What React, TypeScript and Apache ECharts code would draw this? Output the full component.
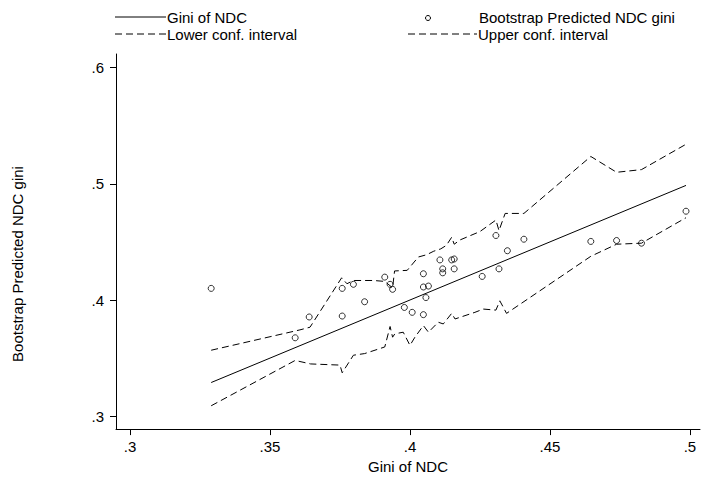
import React, { useEffect, useRef } from "react";
import * as echarts from "echarts";

const giniNDC = [0.329, 0.359, 0.364, 0.3758, 0.3758, 0.3798, 0.3838, 0.391, 0.3929, 0.3938, 0.398, 0.4008, 0.4048, 0.4048, 0.4066, 0.4057, 0.4048, 0.4107, 0.4117, 0.4117, 0.4149, 0.4158, 0.4158, 0.4258, 0.4307, 0.4318, 0.4348, 0.4407, 0.4646, 0.4738, 0.4827, 0.4986];
const bootstrapPred = [0.41, 0.3675, 0.3854, 0.41, 0.3862, 0.4135, 0.3985, 0.4197, 0.4135, 0.4092, 0.3936, 0.3894, 0.4226, 0.4112, 0.412, 0.4021, 0.3874, 0.4345, 0.4268, 0.4234, 0.4345, 0.4353, 0.4268, 0.4203, 0.4555, 0.4268, 0.4424, 0.4523, 0.4504, 0.4512, 0.4489, 0.4764];

const fitX = [0.329, 0.4986];
const fitY = [0.329, 0.4986];

const upperX = [0.329, 0.3607, 0.3643, 0.3756, 0.3775, 0.3798, 0.387, 0.391, 0.3938, 0.3945, 0.399, 0.403, 0.406, 0.4085, 0.411, 0.413, 0.4149, 0.4158, 0.4179, 0.425, 0.4307, 0.4318, 0.434, 0.4407, 0.4646, 0.4738, 0.4827, 0.4986];
const upperY = [0.3568, 0.3743, 0.3766, 0.4191, 0.414, 0.4168, 0.4168, 0.416, 0.4105, 0.425, 0.4255, 0.437, 0.439, 0.442, 0.444, 0.447, 0.454, 0.448, 0.4517, 0.4589, 0.4688, 0.4597, 0.4745, 0.4745, 0.5235, 0.5099, 0.5122, 0.534];

const lowerX = [0.329, 0.359, 0.3645, 0.375, 0.3758, 0.3798, 0.3838, 0.391, 0.3929, 0.3938, 0.3946, 0.3976, 0.4, 0.4018, 0.4048, 0.4066, 0.4101, 0.4119, 0.4149, 0.4161, 0.4232, 0.4262, 0.4307, 0.4321, 0.4345, 0.4646, 0.4738, 0.4827, 0.4986];
const lowerY = [0.309, 0.348, 0.345, 0.344, 0.3374, 0.3525, 0.3539, 0.3596, 0.3772, 0.368, 0.3709, 0.3723, 0.361, 0.3681, 0.378, 0.3723, 0.3809, 0.3794, 0.3885, 0.3837, 0.3894, 0.3922, 0.3913, 0.3993, 0.3885, 0.4376, 0.448, 0.4489, 0.4708];

const xTicks = [0.3, 0.35, 0.4, 0.45, 0.5];
const yTicks = [0.3, 0.4, 0.5, 0.6];

const FONT = '"Liberation Sans", Arial, sans-serif';
const FS = 15;
const fmt = (v: number) => String(Number(v.toFixed(3))).replace(/^0/, "");
const pairs = (xs: number[], ys: number[]) => xs.map((x, i) => [x, ys[i]]);

export default function App() {
  const ref = useRef<HTMLDivElement>(null);
  useEffect(() => {
    if (!ref.current) return;
    const chart = echarts.init(ref.current, null, { renderer: "svg" });
    const dash = [7, 4];
    chart.setOption({
      animation: false,
      backgroundColor: "#ffffff",
      textStyle: { fontFamily: FONT },
      grid: { left: 116, right: 2, top: 54, bottom: 46, containLabel: false },
      xAxis: {
        type: "value",
        min: 0.295,
        max: 0.5036,
        name: "Gini of NDC",
        nameLocation: "middle",
        nameGap: 26,
        nameTextStyle: { fontSize: FS, color: "#000", fontFamily: FONT },
        axisLine: { show: true, onZero: false, lineStyle: { color: "#000", width: 1 } },
        axisTick: { show: true, length: 6, customValues: xTicks, lineStyle: { color: "#000" } },
        axisLabel: { customValues: xTicks, formatter: fmt, fontSize: FS, color: "#000", margin: 10, fontFamily: FONT },
        splitLine: { show: false },
      },
      yAxis: {
        type: "value",
        min: 0.28893,
        max: 0.61167,
        axisLine: { show: true, onZero: false, lineStyle: { color: "#000", width: 1 } },
        axisTick: { show: true, length: 6, customValues: yTicks, lineStyle: { color: "#000" } },
        axisLabel: { customValues: yTicks, formatter: fmt, fontSize: FS, color: "#000", margin: 12, fontFamily: FONT },
        splitLine: { show: false },
      },
      series: [
        {
          name: "Gini of NDC",
          type: "line",
          data: pairs(fitX, fitY),
          symbol: "none",
          lineStyle: { color: "#000", width: 1 },
        },
        {
          name: "Bootstrap Predicted NDC gini",
          type: "scatter",
          data: pairs(giniNDC, bootstrapPred),
          symbol: "circle",
          symbolSize: 6,
          itemStyle: { color: "rgba(255,255,255,0)", borderColor: "#000", borderWidth: 1 },
        },
        {
          name: "Lower conf. interval",
          type: "line",
          data: pairs(lowerX, lowerY),
          symbol: "none",
          lineStyle: { color: "#000", width: 1, type: dash },
        },
        {
          name: "Upper conf. interval",
          type: "line",
          data: pairs(upperX, upperY),
          symbol: "none",
          lineStyle: { color: "#000", width: 1, type: dash },
        },
      ],
      graphic: [
        { type: "text", x: 17, y: 264, rotation: Math.PI / 2, style: { text: "Bootstrap Predicted NDC gini", font: `${FS}px ${FONT}`, fill: "#000", align: "center", verticalAlign: "middle" } },
        { type: "line", shape: { x1: 115, y1: 17, x2: 166, y2: 17 }, style: { stroke: "#000", lineWidth: 1 } },
        { type: "text", x: 167, y: 17, style: { text: "Gini of NDC", font: `${FS}px ${FONT}`, fill: "#000", verticalAlign: "middle" } },
        { type: "line", shape: { x1: 115, y1: 34, x2: 166, y2: 34 }, style: { stroke: "#000", lineWidth: 1, lineDash: dash } },
        { type: "text", x: 167, y: 34, style: { text: "Lower conf. interval", font: `${FS}px ${FONT}`, fill: "#000", verticalAlign: "middle" } },
        { type: "circle", shape: { cx: 428, cy: 18, r: 2.5 }, style: { stroke: "#000", fill: "none", lineWidth: 1 } },
        { type: "text", x: 479, y: 17, style: { text: "Bootstrap Predicted NDC gini", font: `${FS}px ${FONT}`, fill: "#000", verticalAlign: "middle" } },
        { type: "line", shape: { x1: 408, y1: 34, x2: 477, y2: 34 }, style: { stroke: "#000", lineWidth: 1, lineDash: dash } },
        { type: "text", x: 478, y: 34, style: { text: "Upper conf. interval", font: `${FS}px ${FONT}`, fill: "#000", verticalAlign: "middle" } },
      ],
    });
    return () => chart.dispose();
  }, []);
  return <div ref={ref} style={{ width: 702, height: 479, position: "absolute", left: 0, top: 0 }} />;
}
